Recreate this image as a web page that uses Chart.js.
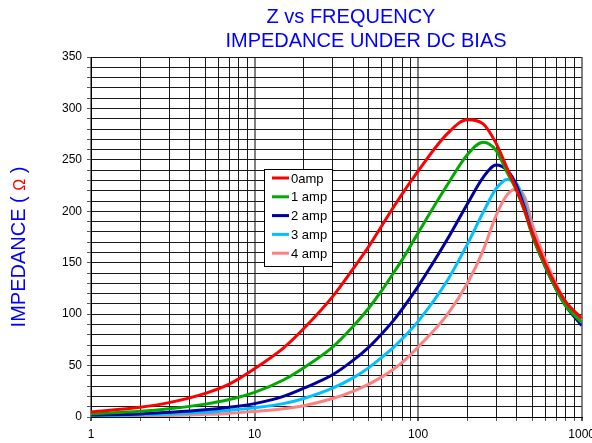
<!DOCTYPE html>
<html>
<head>
<meta charset="utf-8">
<title>Z vs Frequency</title>
<script src="https://cdn.jsdelivr.net/npm/chart.js@4.4.0/dist/chart.umd.min.js"></script>
<style>
  html, body { margin: 0; padding: 0; background: #fff; overflow: hidden; }
  #wrap { width: 601px; height: 443px; }
</style>
</head>
<body>
<div id="wrap"><canvas id="zChart"></canvas></div>
<script>
// Frequency points (x, log scale)
const freqs = [1, 2, 3, 5, 7, 10, 15, 20, 30, 40, 50, 60, 70, 80, 100, 150, 200, 250, 300, 350, 400, 450, 500, 600, 700, 800, 1000];

// Impedance values (ohm), one array per bias current
const amp0 = [5, 9.5, 14, 23, 32, 47, 67, 86, 117, 144, 166, 186, 203, 217, 239, 275, 289, 285, 266, 242, 221, 200, 179, 149, 127, 112, 96];
const amp1 = [3, 5.5, 8, 12.5, 17, 24, 36, 48, 68, 88, 106, 123, 139, 153, 179, 225, 255, 267, 259, 238, 220, 199, 176, 146, 124, 108, 92];
const amp2 = [2, 3, 4.5, 7, 9.5, 13, 20, 28, 41, 55, 68, 81, 93, 105, 127, 172, 207, 233, 245, 240, 225, 202, 177, 146, 124, 108, 89];
const amp3 = [1, 2, 3, 4.5, 6.5, 9, 13, 18, 28, 38, 48, 58, 67, 76, 93, 132, 168, 199, 222, 231, 227, 207, 180, 148, 126, 109, 90];
const amp4 = [0.5, 1, 1.5, 2.5, 3.5, 5.5, 8, 11, 18, 25, 32, 39, 46, 53, 68, 99, 130, 162, 196, 216, 222, 213, 187, 153, 129, 112, 93];

const seriesNames = ['0amp', '1 amp', '2 amp', '3 amp', '4 amp'];
const seriesValues = [amp0, amp1, amp2, amp3, amp4];
const seriesColors = ['#ff0000', '#00aa00', '#0000a0', '#00c0ff', '#ff8080'];

// Axis ticks
const xTickValues = [1, 2, 3, 4, 5, 6, 7, 8, 9, 10, 20, 30, 40, 50, 60, 70, 80, 90, 100,
  200, 300, 400, 500, 600, 700, 800, 900, 1000];
const xLabelValues = [1, 10, 100, 1000];
const yMax = 350;
const yGridStep = 10;
const yLabelStep = 50;

const titleLines = ['Z vs FREQUENCY', 'IMPEDANCE UNDER DC BIAS'];
const blue = '#0000ff';
const fontFamily = '"Liberation Sans", Arial, sans-serif';

// Chart title, drawn in two lines
const titlePlugin = {
  id: 'titleLines',
  afterDraw(chart) {
    const ctx = chart.ctx;
    ctx.save();
    ctx.fillStyle = blue;
    ctx.font = '20px ' + fontFamily;
    ctx.textAlign = 'center';
    ctx.textBaseline = 'alphabetic';
    ctx.fillText(titleLines[0], 351, 23);
    ctx.fillText(titleLines[1], 366, 47);
    ctx.restore();
  }
};

// Y axis title with the red omega
const yTitlePlugin = {
  id: 'yTitle',
  afterDraw(chart) {
    const ctx = chart.ctx;
    const parts = [
      { text: 'IMPEDANCE ( ', color: blue, font: '20px ' + fontFamily },
      { text: 'Ω', color: '#ff0000', font: '16px ' + fontFamily },
      { text: ' )', color: blue, font: '20px ' + fontFamily }
    ];
    ctx.save();
    let total = 0;
    parts.forEach(p => { ctx.font = p.font; p.w = ctx.measureText(p.text).width; total += p.w; });
    ctx.translate(25, 247);
    ctx.rotate(-Math.PI / 2);
    ctx.textBaseline = 'alphabetic';
    ctx.textAlign = 'left';
    let x = -total / 2;
    parts.forEach(p => {
      ctx.font = p.font;
      ctx.fillStyle = p.color;
      ctx.fillText(p.text, x, 0);
      x += p.w;
    });
    ctx.restore();
  }
};

// Boxed legend inside the plot
const legendPlugin = {
  id: 'boxLegend',
  afterDraw(chart) {
    const ctx = chart.ctx;
    const left = 264, top = 169, w = 68, h = 97, rowH = 18.8;
    ctx.save();
    ctx.fillStyle = '#fff';
    ctx.fillRect(left, top, w, h);
    ctx.strokeStyle = '#000';
    ctx.lineWidth = 1;
    ctx.strokeRect(left + 0.5, top + 0.5, w, h);
    ctx.font = '13px ' + fontFamily;
    ctx.textBaseline = 'middle';
    ctx.textAlign = 'left';
    chart.data.datasets.forEach((ds, i) => {
      const y = top + 9 + i * rowH;
      ctx.strokeStyle = ds.borderColor;
      ctx.lineWidth = 3;
      ctx.beginPath();
      ctx.moveTo(left + 8, y);
      ctx.lineTo(left + 25, y);
      ctx.stroke();
      ctx.fillStyle = '#000';
      ctx.fillText(ds.label, left + 27, y + 1);
    });
    ctx.restore();
  }
};

const datasets = seriesNames.map((name, i) => ({
  label: name,
  data: freqs.map((f, j) => ({ x: f, y: seriesValues[i][j] })),
  borderColor: seriesColors[i],
  backgroundColor: seriesColors[i],
  borderWidth: 3,
  pointRadius: 0,
  cubicInterpolationMode: 'monotone',
  fill: false
}));

// decade lines are drawn grey and a bit wider
const isDecade = v => xLabelValues.includes(v);

new Chart(document.getElementById('zChart'), {
  type: 'line',
  data: { datasets: datasets },
  options: {
    responsive: true,
    maintainAspectRatio: false,
    animation: false,
    layout: { padding: { top: 57, left: 0, right: 0, bottom: 0 } },
    plugins: {
      legend: { display: false },
      title: { display: false },
      tooltip: { enabled: false }
    },
    scales: {
      x: {
        type: 'logarithmic',
        min: 1,
        max: 1000,
        afterBuildTicks: scale => { scale.ticks = xTickValues.map(v => ({ value: v })); },
        afterFit: scale => { scale.height = 26; },
        grid: {
          color: ctx => isDecade(ctx.tick.value) ? '#808080' : '#1a1a1a',
          lineWidth: ctx => isDecade(ctx.tick.value) ? 2 : 1,
          tickLength: 4,
          tickColor: '#555'
        },
        border: { color: '#000' },
        ticks: {
          autoSkip: false,
          maxRotation: 0,
          padding: 6,
          color: '#000',
          font: { family: fontFamily, size: 12 },
          callback: v => xLabelValues.includes(v) ? String(v) : ''
        }
      },
      y: {
        min: 0,
        max: yMax,
        afterFit: scale => { scale.width = 91; },
        grid: { color: '#1a1a1a', lineWidth: 1, tickLength: 4, tickColor: '#555' },
        border: { color: '#000' },
        ticks: {
          stepSize: yGridStep,
          autoSkip: false,
          padding: 5,
          color: '#000',
          font: { family: fontFamily, size: 12 },
          callback: v => v % yLabelStep === 0 ? String(v) : ''
        }
      }
    }
  },
  plugins: [titlePlugin, yTitlePlugin, legendPlugin]
});
</script>
</body>
</html>
